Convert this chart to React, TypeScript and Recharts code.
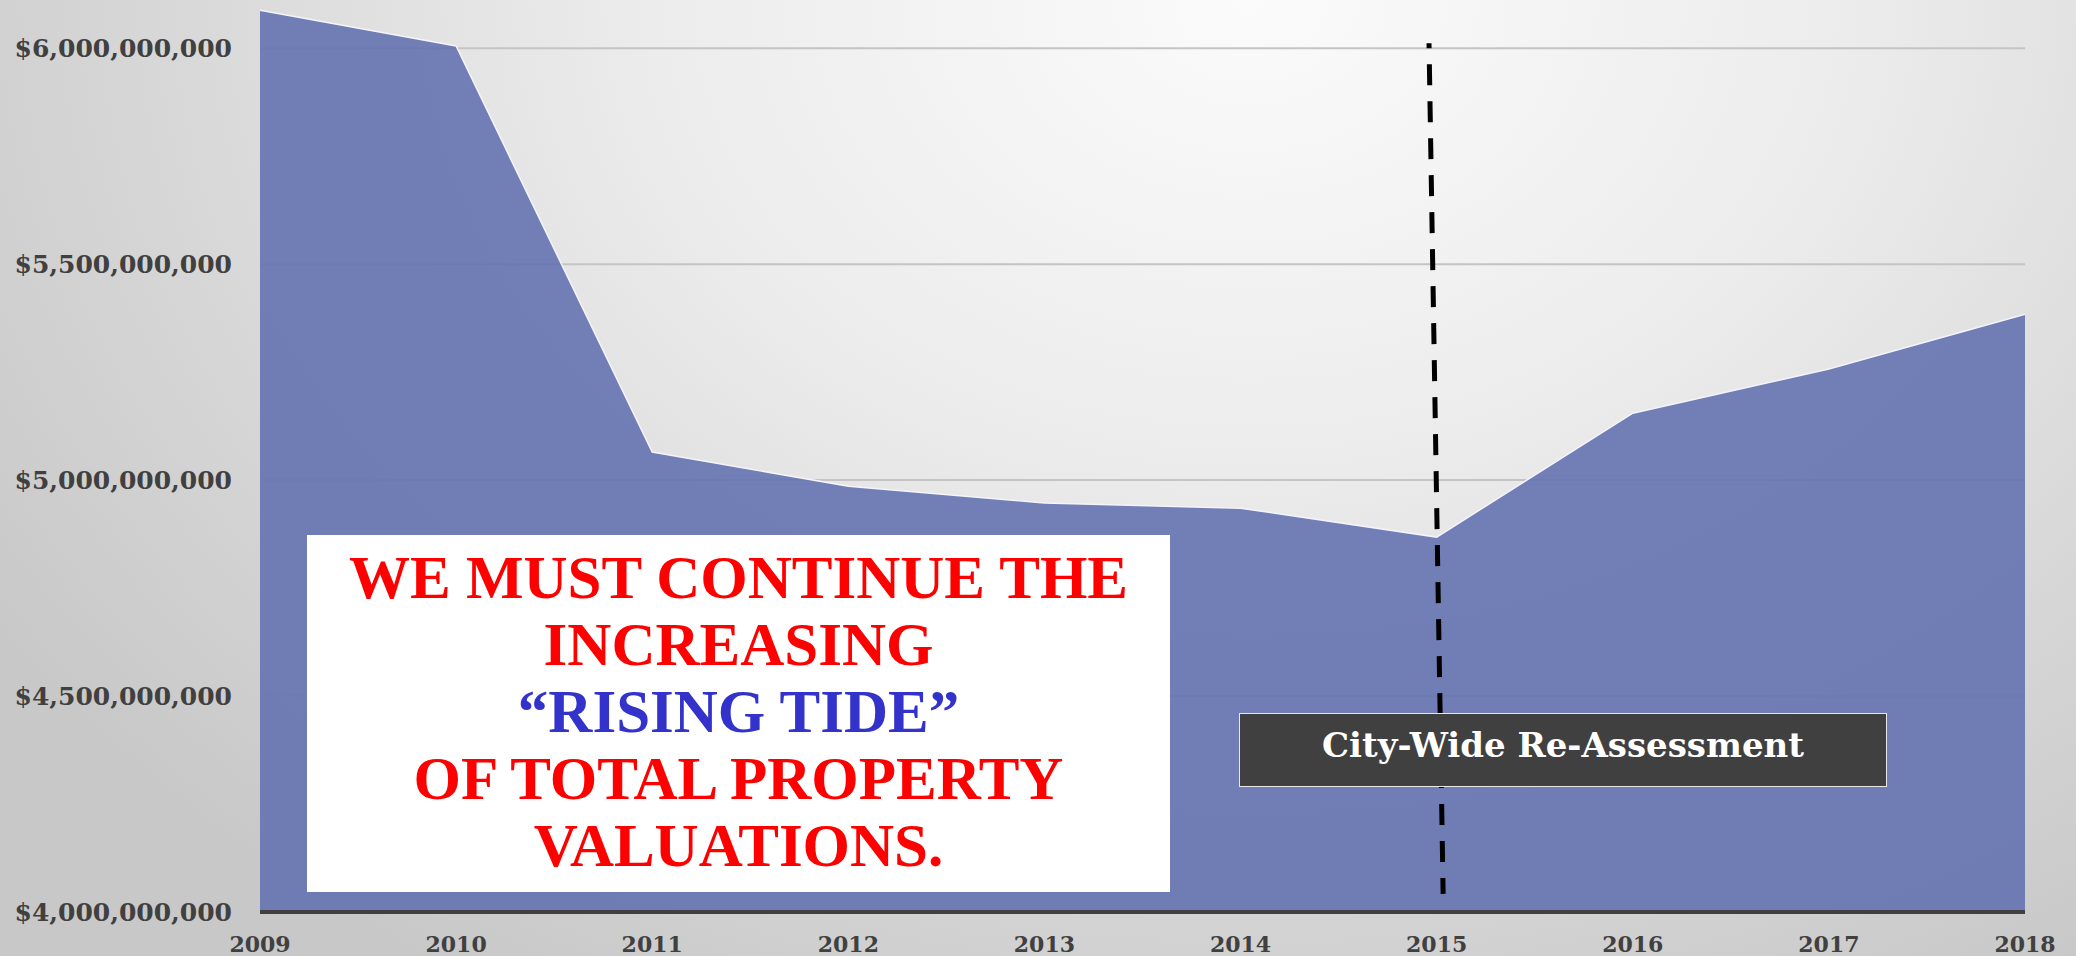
import React from 'react';
import { AreaChart, Area, XAxis, YAxis, CartesianGrid, ReferenceLine } from 'recharts';

const years = [2009, 2010, 2011, 2012, 2013, 2014, 2015, 2016, 2017, 2018];
const valuations = [
  6.088e9, 6.005e9, 5.065e9, 4.986e9, 4.947e9, 4.935e9, 4.868e9, 5.155e9, 5.257e9, 5.384e9,
];
const yTicks = [4e9, 4.5e9, 5e9, 5.5e9, 6e9];
const gridValues = [4.5e9, 5e9, 5.5e9, 6e9];
const reassessmentLine = [
  { x: 2014.961, y: 6.0116e9 },
  { x: 2015.033, y: 4.042e9 },
];
const reassessmentLabel = 'City-Wide Re-Assessment';
const messageLines = [
  { text: 'WE MUST CONTINUE THE', color: '#ff0000' },
  { text: 'INCREASING', color: '#ff0000' },
  { text: '\u201CRISING TIDE\u201D', color: '#3333cc' },
  { text: 'OF TOTAL PROPERTY', color: '#ff0000' },
  { text: 'VALUATIONS.', color: '#ff0000' },
];

const data = years.map((year, i) => ({ year, value: valuations[i] }));

const fmtMoney = (v: number) => '$' + Math.round(v).toLocaleString('en-US');

export default function App() {
  return (
    <div
      style={{
        position: 'absolute',
        left: 0,
        top: 0,
        width: 2076,
        height: 956,
        overflow: 'hidden',
        background:
          'radial-gradient(ellipse 1500px 1150px at 1250px 0px, #fbfbfb 0%, #ececec 40%, #d6d6d6 75%, #c8c8c8 100%)',
      }}
    >
      <AreaChart
        width={2076}
        height={956}
        data={data}
        margin={{ top: 5, right: 51, bottom: 0, left: 0 }}
      >
        <CartesianGrid
          horizontal
          vertical={false}
          horizontalValues={gridValues}
          stroke="#c4c4c4"
          strokeWidth={2}
        />
        <XAxis
          dataKey="year"
          type="number"
          domain={[2009, 2018]}
          ticks={years}
          allowDecimals={false}
          height={44}
          tickSize={0}
          tickMargin={24}
          axisLine={{ stroke: '#404040', strokeWidth: 4 }}
          tickLine={false}
          tick={{
            fill: '#404040',
            fontSize: 22,
            fontWeight: 700,
            fontFamily: '"DejaVu Serif", serif',
          }}
          interval={0}
        />
        <YAxis
          type="number"
          domain={[4e9, 6.1e9]}
          ticks={yTicks}
          width={260}
          tickSize={0}
          tickMargin={28}
          axisLine={false}
          tickLine={false}
          tickFormatter={fmtMoney}
          tick={{
            fill: '#404040',
            fontSize: 25,
            fontWeight: 700,
            fontFamily: '"DejaVu Serif", serif',
          }}
          interval={0}
        />
        <Area
          type="linear"
          dataKey="value"
          fill="#6573b1"
          fillOpacity={0.9}
          stroke="#f4f4fa"
          strokeWidth={1.5}
          isAnimationActive={false}
          dot={false}
          activeDot={false}
        />
        <ReferenceLine
          segment={reassessmentLine}
          stroke="#000000"
          strokeWidth={5}
          strokeDasharray="21 16"
          strokeDashoffset={16}
          ifOverflow="extendDomain"
        />
      </AreaChart>

      <div
        style={{
          position: 'absolute',
          left: 307,
          top: 535,
          width: 863,
          height: 357,
          background: '#ffffff',
          boxSizing: 'border-box',
          paddingTop: 9,
          textAlign: 'center',
          fontFamily: '"Liberation Serif", "Times New Roman", serif',
          fontWeight: 700,
          fontSize: 61,
          lineHeight: '67px',
          whiteSpace: 'nowrap',
        }}
      >
        {messageLines.map((l, i) => (
          <div key={i} style={{ color: l.color }}>
            {l.text}
          </div>
        ))}
      </div>

      <div
        style={{
          position: 'absolute',
          left: 1239,
          top: 713,
          width: 648,
          height: 74,
          background: '#404040',
          border: '1.5px solid #e8e8e8',
          boxSizing: 'border-box',
          display: 'flex',
          alignItems: 'center',
          justifyContent: 'center',
          paddingBottom: 10,
          color: '#ffffff',
          fontFamily: '"DejaVu Serif", Georgia, serif',
          fontWeight: 700,
          fontSize: 34,
          whiteSpace: 'nowrap',
        }}
      >
        {reassessmentLabel}
      </div>
    </div>
  );
}
